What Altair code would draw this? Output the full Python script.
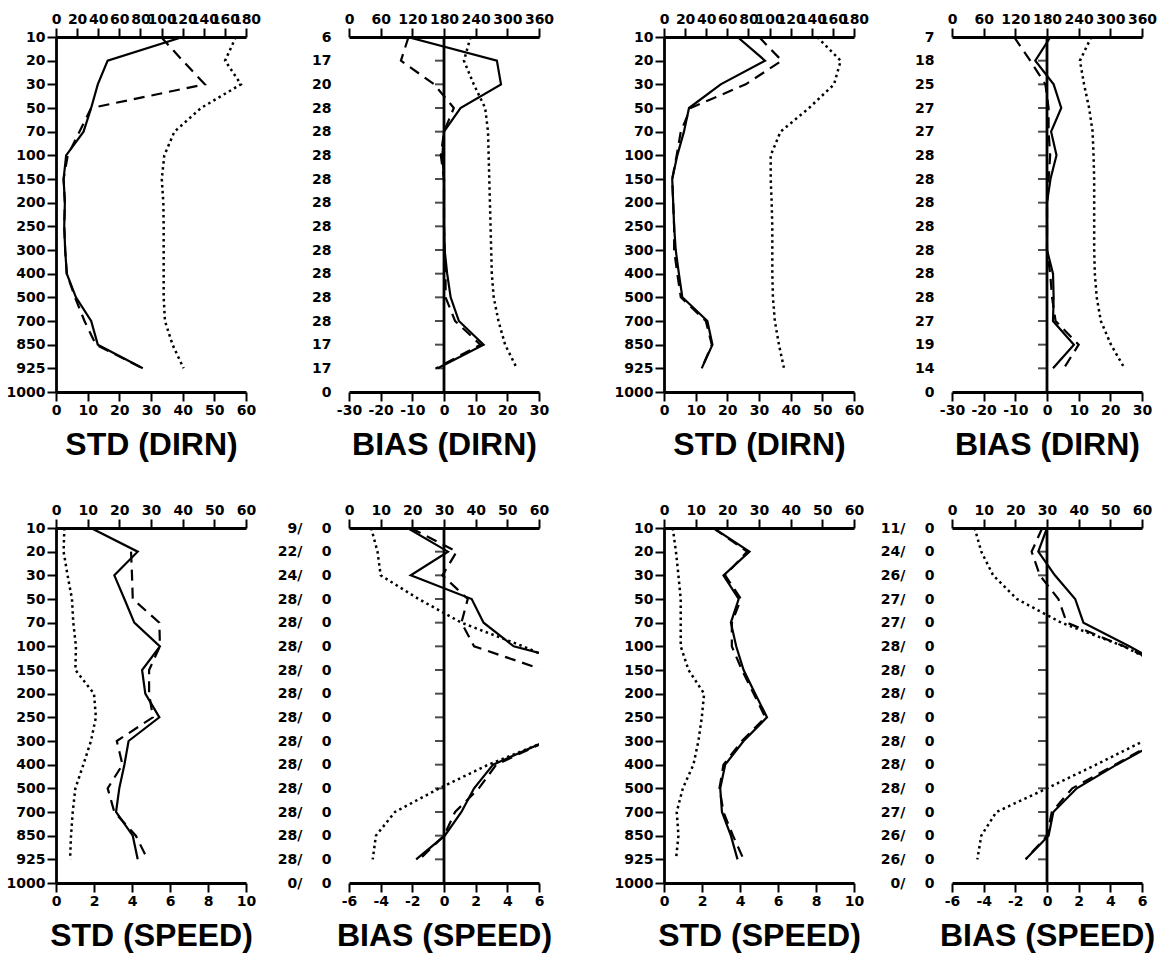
import json
import altair as alt
import pandas as pd

# ---------------- level / count labels ----------------
STD_LEVELS = ["10", "20", "30", "50", "70", "100", "150", "200", "250", "300",
              "400", "500", "700", "850", "925", "1000"]
P2_COUNTS = ["6", "17", "20", "28", "28", "28", "28", "28", "28", "28", "28", "28", "28", "17", "17", "0"]
P4_COUNTS = ["7", "18", "25", "27", "27", "28", "28", "28", "28", "28", "28", "28", "27", "19", "14", "0"]
P6_COUNTS = ["9", "22", "24", "28", "28", "28", "28", "28", "28", "28", "28", "28", "28", "28", "28", "0"]
P8_COUNTS = ["11", "24", "26", "27", "27", "28", "28", "28", "28", "28", "28", "28", "27", "26", "26", "0"]

# ---------------- axis ticks ----------------
STD_DIRN_BOTTOM = [0, 10, 20, 30, 40, 50, 60]
STD_DIRN_TOP = [0, 20, 40, 60, 80, 100, 120, 140, 160, 180]
BIAS_DIRN_BOTTOM = [-30, -20, -10, 0, 10, 20, 30]
BIAS_DIRN_TOP = [0, 60, 120, 180, 240, 300, 360]
STD_SPEED_BOTTOM = [0, 2, 4, 6, 8, 10]
STD_SPEED_TOP = [0, 10, 20, 30, 40, 50, 60]
BIAS_SPEED_BOTTOM = [-6, -4, -2, 0, 2, 4, 6]
BIAS_SPEED_TOP = [0, 10, 20, 30, 40, 50, 60]

# ---------------- series (one value per level, top to bottom) ----------------
p1_solid = [40.0, 16.3, 13.2, 11.1, 8.7, 3.2, 2.4, 2.8, 2.6, 2.9, 3.4, 6.3, 11.1, 13.2, 27.4, None]
p1_dashed = [33.2, 40.0, 47.0, 11.1, 7.4, 3.7, 2.4, 2.8, 2.6, 2.9, 3.4, 6.0, 9.0, 12.6, 27.4, None]
p1_dotted = [56.8, 53.4, 58.4, 45.8, 37.4, 34.2, 33.4, 33.9, 34.0, 34.0, 34.0, 34.0, 34.4, 36.8, 40.3, None]

p2_solid = [-11.5, 16.7, 18.0, 5.2, 0.0, -0.5, 0.0, 0.0, 0.0, 0.2, 1.0, 2.1, 4.7, 12.5, -2.0, None]
p2_dashed = [-11.2, -13.6, -3.1, 3.1, 0.0, -1.0, 0.0, 0.0, 0.0, 0.2, 0.5, 0.5, 3.5, 11.5, -2.5, None]
p2_dotted = [8.4, 6.3, 9.4, 13.0, 13.9, 14.1, 14.3, 14.5, 14.7, 14.9, 15.1, 15.7, 17.2, 19.3, 23.0, None]

p3_solid = [23.2, 31.9, 17.9, 7.9, 6.3, 4.2, 2.6, 2.9, 3.2, 3.7, 4.7, 5.8, 13.7, 15.3, 11.9, None]
p3_dashed = [30.0, 37.2, 25.8, 8.4, 5.3, 4.0, 2.6, 2.9, 3.2, 3.2, 4.2, 5.3, 13.2, 15.1, 11.9, None]
p3_dotted = [48.4, 55.8, 53.7, 45.8, 36.8, 33.7, 33.7, 34.0, 34.2, 34.2, 34.2, 34.4, 35.0, 36.3, 37.9, None]

p4_solid = [1.1, -3.7, 2.1, 4.5, 1.3, 3.0, 1.1, 0.0, 0.0, 0.0, 1.9, 2.1, 1.9, 8.5, 1.9, None]
p4_dashed = [-10.4, -5.3, -0.5, 0.5, 0.5, 1.0, 0.5, 0.0, 0.0, 0.0, 1.0, 1.6, 2.7, 10.0, 5.3, None]
p4_dotted = [14.0, 10.4, 11.7, 13.3, 14.4, 14.7, 14.9, 14.9, 14.9, 14.9, 15.1, 15.7, 17.0, 20.2, 24.5, None]

p5_solid = [1.84, 4.3, 3.07, 3.6, 4.12, 5.47, 4.53, 4.7, 5.44, 3.82, 3.6, 3.33, 3.16, 4.04, 4.3, None]
p5_dashed = [None, 3.95, 4.0, 4.04, 5.44, 5.47, 4.9, 4.9, 5.1, 3.2, 3.5, 2.72, 3.07, 4.2, 4.82, None]
p5_dotted = [0.44, 0.4, 0.61, 0.84, 0.91, 1.05, 1.02, 2.0, 2.1, 1.84, 1.44, 1.02, 0.88, 0.79, 0.74, None]

p6_solid = [-2.3, 0.25, -2.1, 1.75, 2.5, 4.4, 10.1, 12.0, 10.0, 6.45, 3.1, 1.9, 1.1, 0.05, -1.76, None]
p6_dashed = [-2.1, 0.8, -0.1, 1.5, 1.1, 1.9, 6.3, 9.0, 9.0, 6.5, 3.3, 2.2, 0.7, 0.0, -1.55, None]
p6_dotted = [-4.6, -4.2, -4.0, -1.6, 1.1, 5.0, 8.4, 10.0, 10.0, 6.5, 2.8, -0.3, -3.1, -4.3, -4.5, None]

p7_solid = [2.6, 4.5, 3.13, 3.93, 3.52, 3.8, 4.19, 4.8, 5.42, 4.19, 3.22, 2.96, 3.05, 3.52, 3.87, None]
p7_dashed = [2.6, 4.37, 3.22, 4.05, 3.57, 3.57, 4.1, 4.72, 5.33, 4.1, 3.13, 2.92, 3.13, 3.63, 4.19, None]
p7_dotted = [0.46, 0.63, 0.76, 0.88, 0.88, 0.88, 1.29, 2.11, 1.99, 1.81, 1.55, 0.99, 0.67, 0.76, 0.63, None]

p8_solid = [0.0, -0.55, 0.5, 1.78, 2.3, 5.2, 7.9, 10.0, 10.0, 7.1, 4.4, 1.88, 0.4, 0.1, -1.35, None]
p8_dashed = [-0.3, -0.97, -0.45, 0.72, 1.25, 4.85, 8.0, 10.0, 10.0, 7.0, 4.3, 1.6, 0.3, 0.0, -1.35, None]
p8_dotted = [-4.57, -4.15, -3.4, -1.9, 0.9, 4.85, 7.8, 10.0, 10.0, 6.1, 3.1, 0.0, -3.2, -4.15, -4.4, None]

NBSP = "\u00a0"
PANEL_W = 190
PANEL_H = 355
GAPS = [103, 125, 98]   # gaps between plot areas of consecutive panels in a row
HYPHEN_LABEL = "datum.value < 0 ? '-' + abs(datum.value) : '' + datum.value"
LINE_STYLES = (
    ("solid", None, 2.2),
    ("dashed", [11, 7], 2.2),
    ("dotted", [2.5, 3.5], 2.5),
)


def speed_labels(counts):
    return [c + "/" + NBSP * 4 + "0" for c in counts]


def make_panel(kind, xdom, xticks, topdom, topticks, ylabels, solid, dashed, dotted, title):
    rows = []
    for name, arr in (("solid", solid), ("dashed", dashed), ("dotted", dotted)):
        for i, v in enumerate(arr):
            if v is not None:
                rows.append({"level": i, "value": v, "series": name})
    df = pd.DataFrame(rows)

    xscale = alt.Scale(domain=xdom, nice=False, zero=False)
    yscale = alt.Scale(domain=[0, len(ylabels) - 1], reverse=True, nice=False, zero=False)
    xaxis = alt.Axis(orient="bottom", values=xticks, title=title, labelFlush=False,
                     labelOverlap=False, grid=False, labelExpr=HYPHEN_LABEL)
    lab_expr = json.dumps(ylabels) + "[datum.value]"
    if kind == "std":
        yaxis = alt.Axis(orient="left", values=list(range(len(ylabels))), labelExpr=lab_expr,
                         title=None, grid=False, labelPadding=2, labelOverlap=False)
    else:
        yaxis = alt.Axis(orient="left", values=list(range(len(ylabels))), labelExpr=lab_expr,
                         title=None, grid=False, domain=False, ticks=False, labelPadding=18,
                         labelOverlap=False)
    X = alt.X("value:Q", scale=xscale, axis=xaxis)
    Y = alt.Y("level:Q", scale=yscale, axis=yaxis)

    inner = []
    for name, dash, sw in LINE_STYLES:
        mk = dict(color="black", strokeWidth=sw, clip=True, strokeCap="butt")
        if dash:
            mk["strokeDash"] = dash
        inner.append(
            alt.Chart(df).transform_filter(alt.datum.series == name)
            .mark_line(**mk).encode(x=X, y=Y, order=alt.Order("level:Q"))
        )
    if kind == "bias":
        zero_df = pd.DataFrame({"value": [0.0], "level": [0], "level_end": [len(ylabels) - 1]})
        inner.append(alt.Chart(zero_df).mark_rule(color="black", strokeWidth=2.8)
                     .encode(x=X, y=Y, y2="level_end:Q"))
        tick_df = pd.DataFrame({"value": [0.0] * (len(ylabels) - 2),
                                "level": list(range(1, len(ylabels) - 1))})
        inner.append(alt.Chart(tick_df).mark_tick(color="black", orient="horizontal", size=9,
                                                  thickness=2, xOffset=-4.5)
                     .encode(x=X, y=Y))

    top_df = pd.DataFrame({"top": topticks})
    top = alt.Chart(top_df).mark_point(opacity=0).encode(
        x=alt.X("top:Q", scale=alt.Scale(domain=topdom, nice=False, zero=False),
                axis=alt.Axis(orient="top", values=topticks, title=None, labelFlush=False,
                              labelOverlap=False, grid=False))
    )
    return alt.layer(alt.layer(*inner), top).resolve_scale(x="independent").properties(
        width=PANEL_W, height=PANEL_H)


def spacer(w):
    d = pd.DataFrame({"a": [0]})
    return alt.Chart(d).mark_point(opacity=0).encode(
        x=alt.X("a:Q", axis=None), y=alt.Y("a:Q", axis=None)
    ).properties(width=w, height=PANEL_H)


p1 = make_panel("std", [0, 60], STD_DIRN_BOTTOM, [0, 180], STD_DIRN_TOP, STD_LEVELS,
                p1_solid, p1_dashed, p1_dotted, "STD (DIRN)")
p2 = make_panel("bias", [-30, 30], BIAS_DIRN_BOTTOM, [0, 360], BIAS_DIRN_TOP, P2_COUNTS,
                p2_solid, p2_dashed, p2_dotted, "BIAS (DIRN)")
p3 = make_panel("std", [0, 60], STD_DIRN_BOTTOM, [0, 180], STD_DIRN_TOP, STD_LEVELS,
                p3_solid, p3_dashed, p3_dotted, "STD (DIRN)")
p4 = make_panel("bias", [-30, 30], BIAS_DIRN_BOTTOM, [0, 360], BIAS_DIRN_TOP, P4_COUNTS,
                p4_solid, p4_dashed, p4_dotted, "BIAS (DIRN)")
p5 = make_panel("std", [0, 10], STD_SPEED_BOTTOM, [0, 60], STD_SPEED_TOP, STD_LEVELS,
                p5_solid, p5_dashed, p5_dotted, "STD (SPEED)")
p6 = make_panel("bias", [-6, 6], BIAS_SPEED_BOTTOM, [0, 60], BIAS_SPEED_TOP, speed_labels(P6_COUNTS),
                p6_solid, p6_dashed, p6_dotted, "BIAS (SPEED)")
p7 = make_panel("std", [0, 10], STD_SPEED_BOTTOM, [0, 60], STD_SPEED_TOP, STD_LEVELS,
                p7_solid, p7_dashed, p7_dotted, "STD (SPEED)")
p8 = make_panel("bias", [-6, 6], BIAS_SPEED_BOTTOM, [0, 60], BIAS_SPEED_TOP, speed_labels(P8_COUNTS),
                p8_solid, p8_dashed, p8_dotted, "BIAS (SPEED)")

cells = [
    p1, spacer(GAPS[0]), p2, spacer(GAPS[1]), p3, spacer(GAPS[2]), p4,
    p5, spacer(GAPS[0]), p6, spacer(GAPS[1]), p7, spacer(GAPS[2]), p8,
]

chart = (
    alt.concat(*cells, columns=7, spacing={"row": 136, "column": 0}, bounds="flush")
    .configure(padding={"left": 6, "top": 12, "right": 5, "bottom": 5}, background="white")
    .configure_view(stroke=None)
    .configure_axis(
        domainColor="black", domainWidth=2.8, tickColor="black", tickWidth=2, tickSize=9,
        labelFont="DejaVu Sans", labelFontWeight="bold", labelFontSize=14, labelColor="black",
        titleFont="Liberation Sans", titleFontWeight="bold", titleFontSize=32,
        titleColor="black", titlePadding=12,
    )
)

chart.save("out.html", embed_options={"renderer": "svg", "actions": False})
